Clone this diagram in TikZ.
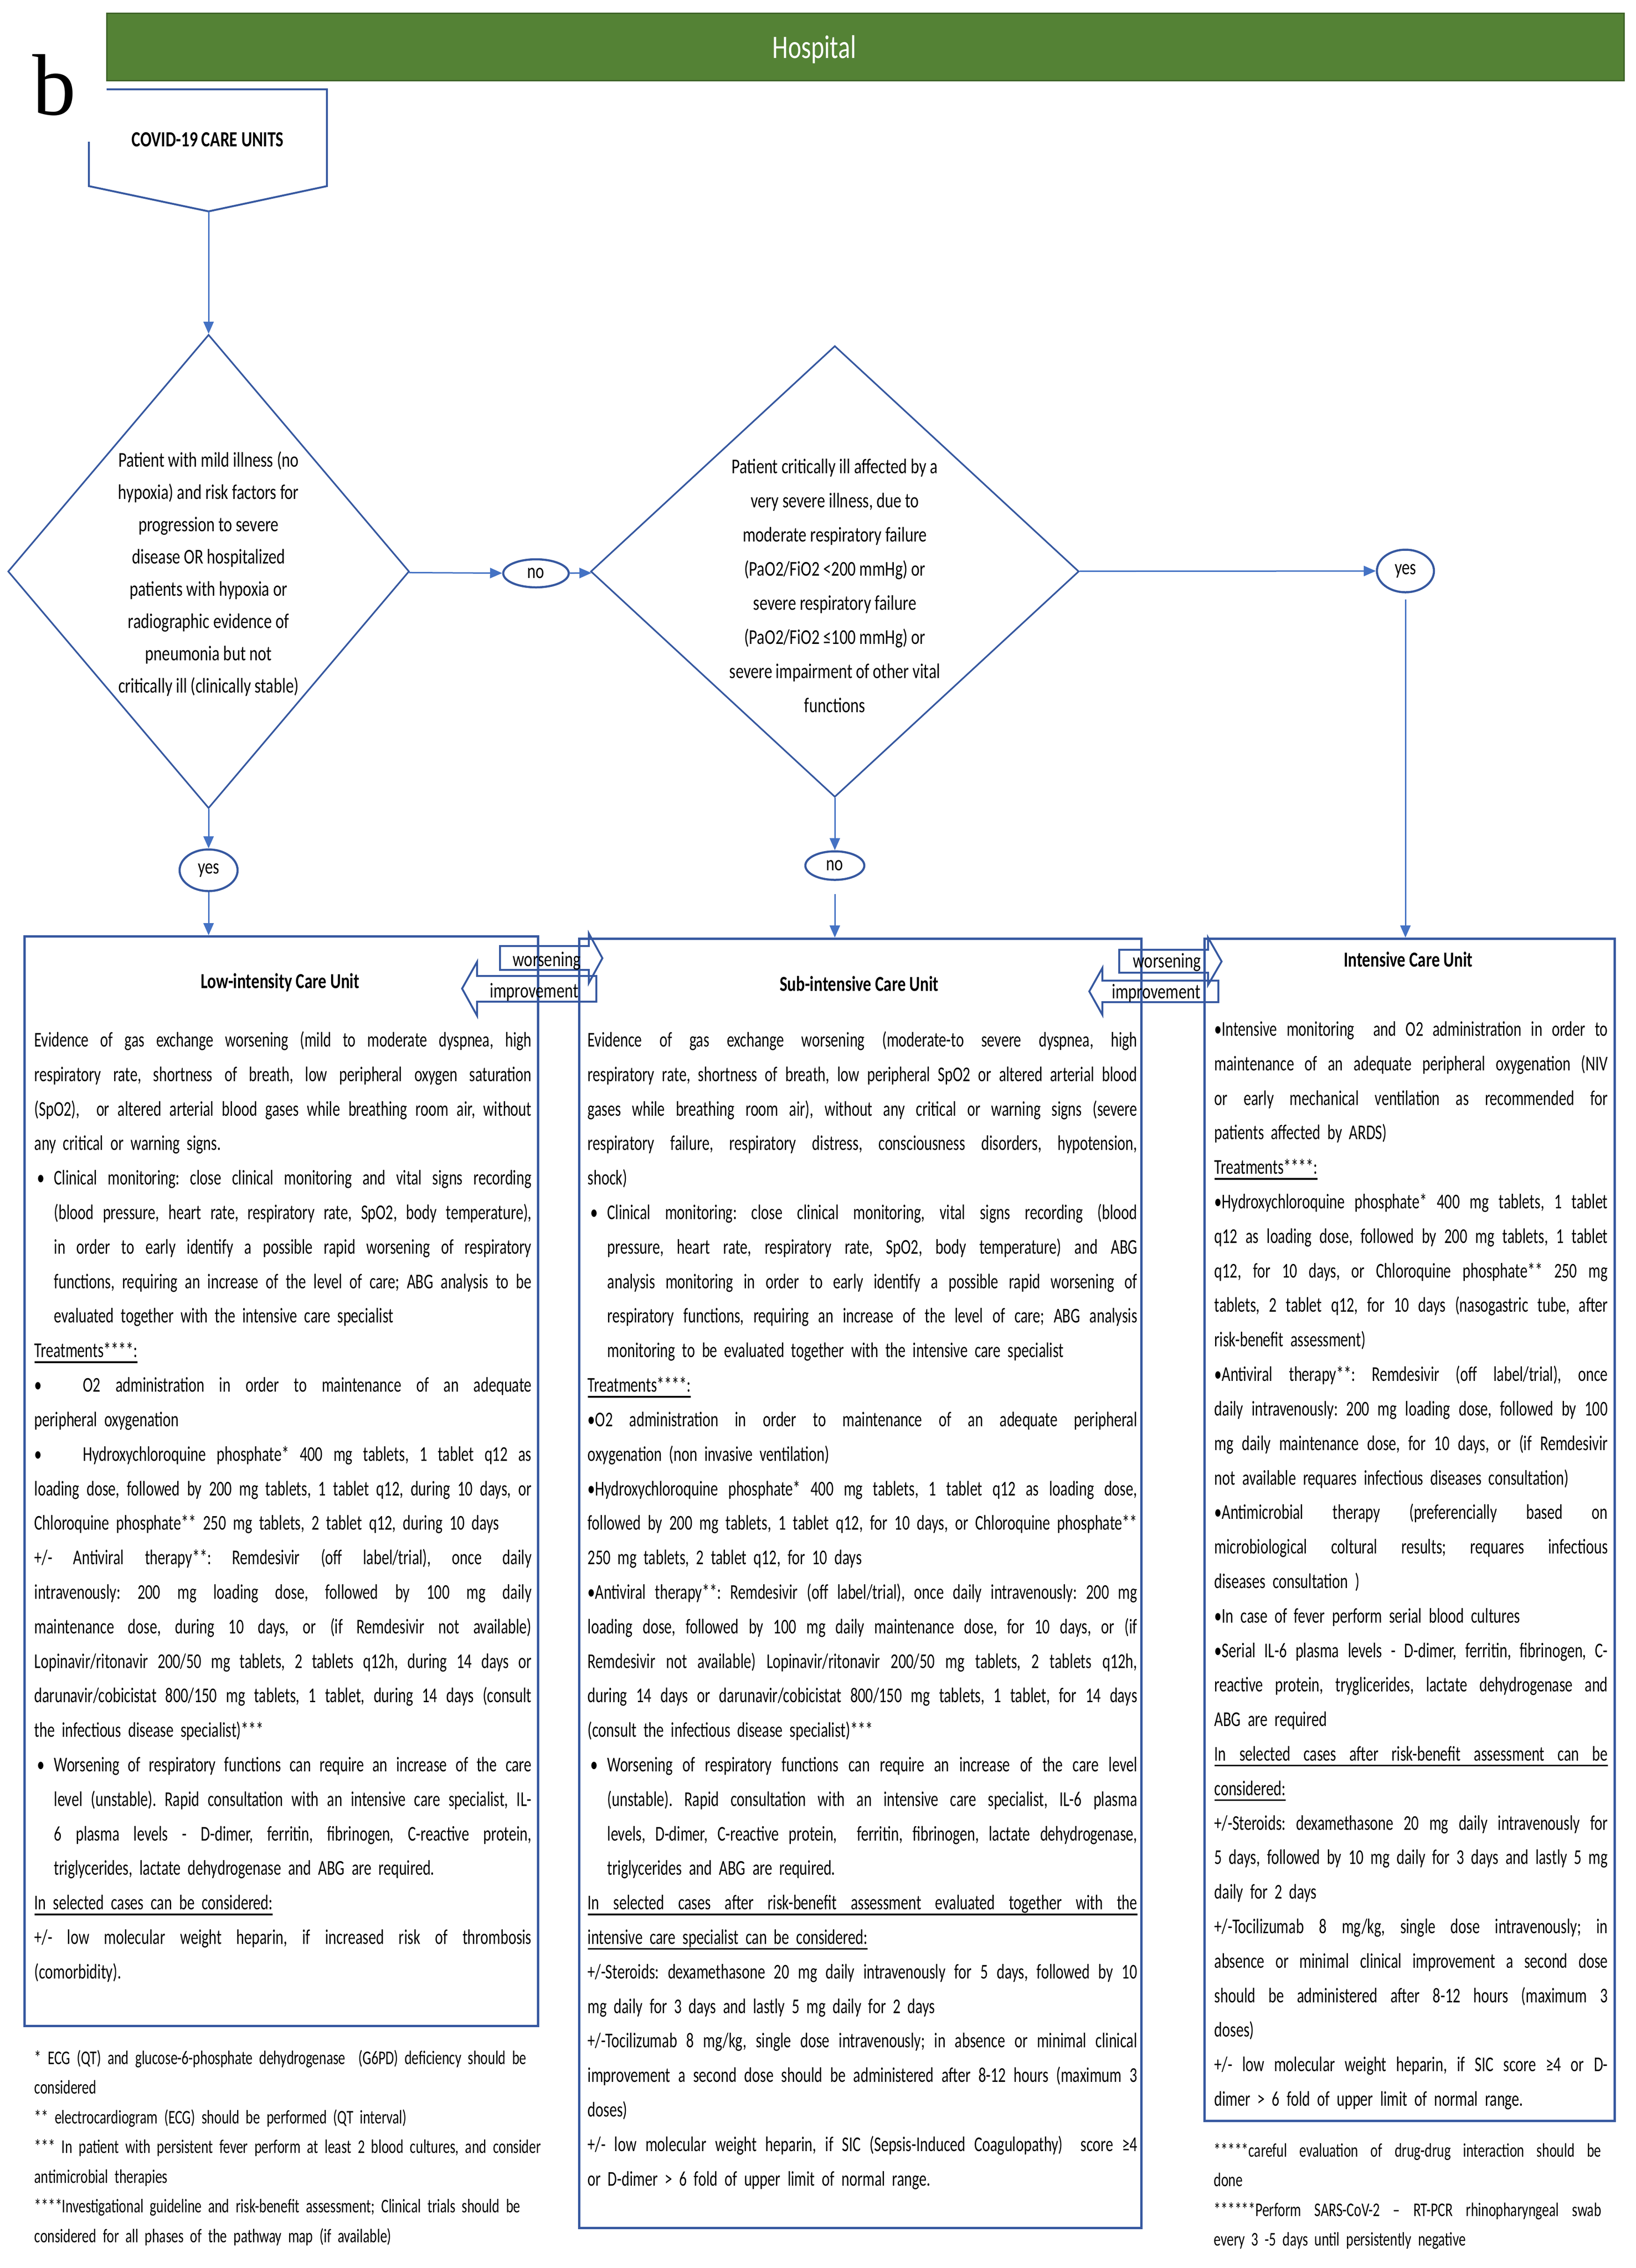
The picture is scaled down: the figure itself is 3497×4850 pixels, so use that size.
\documentclass[tikz,border=0pt]{standalone}
\usepackage{fontspec}
\setmainfont{Carlito}[FakeStretch=0.715]
\newfontfamily\condfont{Carlito}[FakeStretch=0.765]
\newfontfamily\panelfont{Liberation Serif}
\usetikzlibrary{arrows.meta,shapes.geometric}

\definecolor{boxblue}{RGB}{54,88,160}
\definecolor{linkblue}{RGB}{68,114,196}
\definecolor{wardgreen}{RGB}{84,130,53}
\definecolor{wardedge}{RGB}{62,99,40}

\newcommand\unitfont{\fontsize{12.8}{21.0}\selectfont}
\newcommand\notefont{\fontsize{11.8}{18.06}\selectfont}
\newcommand\tagfont{\condfont\fontsize{12.8}{15}\selectfont}
\frenchspacing
\lineskiplimit=-\maxdimen

\newlength\hangw
\setlength\hangw{4.2mm}
\newcommand\flex{\spaceskip=\fontdimen2\font plus 5\fontdimen2\font minus 0.35\fontdimen2\font\relax}
\newcommand\jl[1]{\par\noindent\hbox to\hsize{\flex\strut#1}}
\newcommand\el[1]{\par\noindent\hbox to\hsize{\strut#1\hfil}}
\newcommand\ijl[1]{\par\noindent\hbox to\hsize{\flex\strut\hskip\hangw#1}}
\newcommand\iel[1]{\par\noindent\hbox to\hsize{\strut\hskip\hangw#1\hfil}}
\newcommand\bjl[1]{\par\noindent\hbox to\hsize{\flex\strut\hbox to\hangw{\hskip0.6mm•\hfil}#1}}
\newcommand\tjl[1]{\par\noindent\hbox to\hsize{\flex\strut\hbox to10.4mm{•\hfil}#1}}
\newcommand\ujl[1]{\par\noindent\hbox to\hsize{\flex\strut\rlap{\rule[-1.2mm]{\hsize}{0.35mm}}#1}}
\newcommand\uln[1]{\setbox0\hbox{#1}\rlap{\rule[-1.2mm]{\wd0}{0.35mm}}\box0}

\tikzset{
  unitbox/.style={draw=boxblue, line width=0.45mm, rectangle, inner sep=0pt, anchor=north west},
  cond/.style={draw=boxblue, line width=0.35mm, diamond, inner sep=0pt},
  answer/.style={draw=boxblue, line width=0.45mm, ellipse, inner sep=0pt, font=\tagfont},
  link/.style={draw=linkblue, line width=0.3mm, -{Triangle[length=2.6mm,width=2.2mm]}},
  moveshape/.style={draw=boxblue, line width=0.4mm},
  bodytext/.style={inner sep=0pt, anchor=north west, font=\unitfont},
  condtext/.style={inner sep=0pt, anchor=north, align=center},
  unittitle/.style={inner sep=0pt, anchor=base, font=\condfont\fontsize{13}{16}\selectfont\bfseries},
  tagtext/.style={inner sep=0pt, anchor=base, font=\tagfont},
}

\begin{document}
\begin{tikzpicture}[x=0.1mm, y=-0.1mm]
\fill[white] (0,0) rectangle (3497,4850);
\useasboundingbox (0,0) rectangle (3497,4850);

\path (1850,100) node[fill=wardgreen, draw=wardedge, line width=0.3mm, minimum width=324.4mm, minimum height=14.4mm, inner sep=0pt] (hosp) {};
\path (1741,124) node[tagtext, font=\condfont\fontsize{20}{24}\selectfont, text=white] (hosptxt) {Hospital};
\path (69,245) node[inner sep=0pt, anchor=base west, font=\panelfont\fontsize{53}{60}\selectfont] (panel) {b};

\draw[boxblue, line width=0.4mm] (190,303) -- (190,398) -- (446,452) -- (699,398) -- (699,191) -- (228,191);
\coordinate (cutip) at (446,452);
\path (444,313) node[unittitle, font=\condfont\fontsize{13.15}{16}\selectfont\bfseries] (cutxt) {COVID-19 CARE UNITS};

\path (446,1222) node[cond, minimum width=85.8mm, minimum height=101.3mm] (D1) {};
\path (446,949) node[condtext, font=\condfont\fontsize{12.8}{19.64}\selectfont] (D1txt) {\strut Patient with mild illness (no\\
hypoxia) and risk factors for\\
progression to severe\\
disease OR hospitalized\\
patients with hypoxia or\\
radiographic evidence of\\
pneumonia but not\\
critically ill (clinically stable)};
\path (1785,1222) node[cond, minimum width=104.4mm, minimum height=96.5mm] (D2) {};
\path (1785,961) node[condtext, font=\condfont\fontsize{12.8}{20.77}\selectfont] (D2txt) {\strut Patient critically ill affected by a\\
very severe illness, due to\\
moderate respiratory failure\\
(PaO2/FiO2 <200 mmHg) or\\
severe respiratory failure\\
(PaO2/FiO2 ≤100 mmHg) or\\
severe impairment of other vital\\
functions};

\path (1146,1226) node[answer, minimum width=14mm, minimum height=6mm] (no1) {no};
\path (446,1861) node[answer, minimum width=12.4mm, minimum height=8.9mm] (yes1) {yes};
\path (1785,1851) node[answer, minimum width=12.6mm, minimum height=6.1mm] (no2) {no};
\path (3005,1221) node[answer, minimum width=12.2mm, minimum height=9.1mm] (yes2) {yes};

\path (50,2000) node[unitbox, minimum width=109.8mm, minimum height=233mm] (low) {};
\path (1236,2005) node[unitbox, minimum width=120.2mm, minimum height=275.7mm] (sub) {};
\path (2573,2005) node[unitbox, minimum width=87.7mm, minimum height=252.8mm] (icu) {};

\path (599,2113) node[unittitle] (lowtitle) {Low-intensity Care Unit};
\path (1837,2119) node[unittitle] (subtitle) {Sub-intensive Care Unit};
\path (3011,2067) node[unittitle] (icutitle) {Intensive Care Unit};

\path (73,2164) node[bodytext, text width=106.3mm] (lowtxt) {%
\jl{Evidence of gas exchange worsening (mild to moderate dyspnea, high}
\jl{respiratory rate, shortness of breath, low peripheral oxygen saturation}
\jl{(SpO2),\ \ or altered arterial blood gases while breathing room air, without}
\el{any critical or warning signs.}
\bjl{Clinical monitoring: close clinical monitoring and vital signs recording}
\ijl{(blood pressure, heart rate, respiratory rate, SpO2, body temperature),}
\ijl{in order to early identify a possible rapid worsening of respiratory}
\ijl{functions, requiring an increase of the level of care; ABG analysis to be}
\iel{evaluated together with the intensive care specialist}
\el{\uln{Treatments****:}}
\tjl{O2 administration in order to maintenance of an adequate}
\el{peripheral oxygenation}
\tjl{Hydroxychloroquine phosphate* 400 mg tablets, 1 tablet q12 as}
\jl{loading dose, followed by 200 mg tablets, 1 tablet q12, during 10 days, or}
\el{Chloroquine phosphate** 250 mg tablets, 2 tablet q12, during 10 days}
\jl{+/- Antiviral therapy**: Remdesivir (off label/trial), once daily}
\jl{intravenously: 200 mg loading dose, followed by 100 mg daily}
\jl{maintenance dose, during 10 days, or (if Remdesivir not available)}
\jl{Lopinavir/ritonavir 200/50 mg tablets, 2 tablets q12h, during 14 days or}
\jl{darunavir/cobicistat 800/150 mg tablets, 1 tablet, during 14 days (consult}
\el{the infectious disease specialist)***}
\bjl{Worsening of respiratory functions can require an increase of the care}
\ijl{level (unstable). Rapid consultation with an intensive care specialist, IL-}
\ijl{6 plasma levels - D-dimer, ferritin, fibrinogen, C-reactive protein,}
\iel{triglycerides, lactate dehydrogenase and ABG are required.}
\el{\uln{In selected cases can be considered:}}
\jl{+/- low molecular weight heparin, if increased risk of thrombosis}
\el{(comorbidity).}};

\path (1256,2164) node[bodytext, text width=117.5mm] (subtxt) {%
\jl{Evidence of gas exchange worsening (moderate-to severe dyspnea, high}
\jl{respiratory rate, shortness of breath, low peripheral SpO2 or altered arterial blood}
\jl{gases while breathing room air), without any critical or warning signs (severe}
\jl{respiratory failure, respiratory distress, consciousness disorders, hypotension,}
\el{shock)}
\bjl{Clinical monitoring: close clinical monitoring, vital signs recording (blood}
\ijl{pressure, heart rate, respiratory rate, SpO2, body temperature) and ABG}
\ijl{analysis monitoring in order to early identify a possible rapid worsening of}
\ijl{respiratory functions, requiring an increase of the level of care; ABG analysis}
\iel{monitoring to be evaluated together with the intensive care specialist}
\el{\uln{Treatments****:}}
\jl{•O2 administration in order to maintenance of an adequate peripheral}
\el{oxygenation (non invasive ventilation)}
\jl{•Hydroxychloroquine phosphate* 400 mg tablets, 1 tablet q12 as loading dose,}
\jl{followed by 200 mg tablets, 1 tablet q12, for 10 days, or Chloroquine phosphate**}
\el{250 mg tablets, 2 tablet q12, for 10 days}
\jl{•Antiviral therapy**: Remdesivir (off label/trial), once daily intravenously: 200 mg}
\jl{loading dose, followed by 100 mg daily maintenance dose, for 10 days, or (if}
\jl{Remdesivir not available) Lopinavir/ritonavir 200/50 mg tablets, 2 tablets q12h,}
\jl{during 14 days or darunavir/cobicistat 800/150 mg tablets, 1 tablet, for 14 days}
\el{(consult the infectious disease specialist)***}
\bjl{Worsening of respiratory functions can require an increase of the care level}
\ijl{(unstable). Rapid consultation with an intensive care specialist, IL-6 plasma}
\ijl{levels, D-dimer, C-reactive protein,\ \ ferritin, fibrinogen, lactate dehydrogenase,}
\iel{triglycerides and ABG are required.}
\ujl{In selected cases after risk-benefit assessment evaluated together with the}
\el{\uln{intensive care specialist can be considered:}}
\jl{+/-Steroids: dexamethasone 20 mg daily intravenously for 5 days, followed by 10}
\el{mg daily for 3 days and lastly 5 mg daily for 2 days}
\jl{+/-Tocilizumab 8 mg/kg, single dose intravenously; in absence or minimal clinical}
\jl{improvement a second dose should be administered after 8-12 hours (maximum 3}
\el{doses)}
\jl{+/- low molecular weight heparin, if SIC (Sepsis-Induced Coagulopathy)\ \ score ≥4}
\el{or D-dimer > 6 fold of upper limit of normal range.}};

\path (2596,2141) node[bodytext, text width=84.1mm] (icutxt) {%
\jl{•Intensive monitoring\ \ and O2 administration in order to}
\jl{maintenance of an adequate peripheral oxygenation (NIV}
\jl{or early mechanical ventilation as recommended for}
\el{patients affected by ARDS)}
\el{\uln{Treatments****:}}
\jl{•Hydroxychloroquine phosphate* 400 mg tablets, 1 tablet}
\jl{q12 as loading dose, followed by 200 mg tablets, 1 tablet}
\jl{q12, for 10 days, or Chloroquine phosphate** 250 mg}
\jl{tablets, 2 tablet q12, for 10 days (nasogastric tube, after}
\el{risk-benefit assessment)}
\jl{•Antiviral therapy**: Remdesivir (off label/trial), once}
\jl{daily intravenously: 200 mg loading dose, followed by 100}
\jl{mg daily maintenance dose, for 10 days, or (if Remdesivir}
\el{not available requares infectious diseases consultation)}
\jl{•Antimicrobial therapy (preferencially based on}
\jl{microbiological coltural results; requares infectious}
\el{diseases consultation )}
\el{•In case of fever perform serial blood cultures}
\jl{•Serial IL-6 plasma levels - D-dimer, ferritin, fibrinogen, C-}
\jl{reactive protein, tryglicerides, lactate dehydrogenase and}
\el{ABG are required}
\ujl{In selected cases after risk-benefit assessment can be}
\el{\uln{considered:}}
\jl{+/-Steroids: dexamethasone 20 mg daily intravenously for}
\jl{5 days, followed by 10 mg daily for 3 days and lastly 5 mg}
\el{daily for 2 days}
\jl{+/-Tocilizumab 8 mg/kg, single dose intravenously; in}
\jl{absence or minimal clinical improvement a second dose}
\jl{should be administered after 8-12 hours (maximum 3}
\el{doses)}
\jl{+/- low molecular weight heparin, if SIC score ≥4 or D-}
\el{dimer > 6 fold of upper limit of normal range.}};

\path (73,4350) node[bodytext, text width=110mm, font=\notefont] (notesL) {%
\el{* ECG (QT) and glucose-6-phosphate dehydrogenase\ \ (G6PD) deficiency should be}
\el{considered}
\el{** electrocardiogram (ECG) should be performed (QT interval)}
\el{*** In patient with persistent fever perform at least 2 blood cultures, and consider}
\el{antimicrobial therapies}
\el{****Investigational guideline and risk-benefit assessment; Clinical trials should be}
\el{considered for all phases of the pathway map (if available)}};
\path (2595,4548) node[bodytext, text width=82.8mm, font=\notefont] (notesR) {%
\jl{*****careful evaluation of drug-drug interaction should be}
\el{done}
\jl{******Perform SARS-CoV-2 – RT-PCR rhinopharyngeal swab}
\el{every 3 -5 days until persistently negative}};

\draw[moveshape] (1069,2023) -- (1259,2023) -- (1259,1996) -- (1288,2049) -- (1259,2102) -- (1259,2074) -- (1069,2074) -- cycle;
\draw[moveshape] (1275,2087) -- (1020,2087) -- (1020,2057) -- (988,2114) -- (1020,2172) -- (1020,2142) -- (1275,2142) -- cycle;
\draw[moveshape] (2393,2031) -- (2583,2031) -- (2583,2005) -- (2612,2056) -- (2583,2106) -- (2583,2080) -- (2393,2080) -- cycle;
\draw[moveshape] (2605,2097) -- (2357,2097) -- (2357,2070) -- (2329,2120) -- (2357,2170) -- (2357,2143) -- (2605,2143) -- cycle;
\path (1169,2066) node[tagtext] (worseL) {worsening};
\path (1142,2133) node[tagtext] (betterL) {improvement};
\path (2495,2069) node[tagtext] (worseR) {worsening};
\path (2472,2135) node[tagtext] (betterR) {improvement};

\draw[link] (cutip) to (D1);
\draw[link] (D1) to (no1);
\draw[link] (no1) to (D2);
\draw[link] (D2) to (yes2);
\draw[link] (D1) to (yes1);
\draw[link] (yes1) to (yes1 |- low.north);
\draw[link] (D2) to (no2);
\draw[link, shorten <=2.8mm] (no2) to (no2 |- sub.north);
\draw[link, shorten <=1.3mm] (yes2) to (yes2 |- icu.north);
\end{tikzpicture}
\end{document}
